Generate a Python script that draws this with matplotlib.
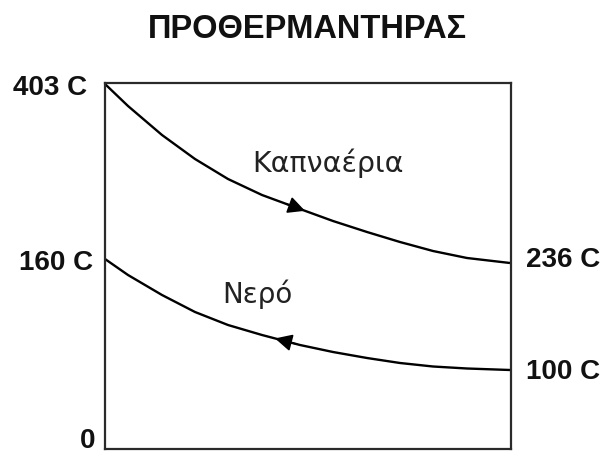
import numpy as np
import matplotlib.pyplot as plt

# ── Data (schematic levels) ────────────────────────────────────────────────
# x: position along the exchanger, y: drawing level (not to temperature scale)
pos_x   = [0, 23, 57, 90, 123, 157, 195, 228, 262, 295, 328, 362, 405]
gas_y   = [365, 343, 314, 290, 270, 254, 240, 228, 217, 207, 198, 191, 186]
water_y = [190, 174, 154, 137, 124, 114, 104, 97, 91, 86, 82.5, 80.5, 79]

left_labels  = ["403 C", "160 C", "0"]
left_levels  = [361, 186, 8]
right_labels = ["236 C", "100 C"]
right_levels = [189, 77]

title = "ΠΡΟΘΕΡΜΑΝΤΗΡΑΣ"
gas_name, water_name = "Καπναέρια", "Νερό"

# ── Plot ───────────────────────────────────────────────────────────────────
fig = plt.figure(figsize=(6.01, 4.57), dpi=100)
ax = fig.add_axes([105 / 601, 8 / 457, 406 / 601, 366 / 457])
ax.set_xlim(0, 406)
ax.set_ylim(0, 366)
ax.set_xticks([])
ax.set_yticks([])
for s in ax.spines.values():
    s.set_linewidth(1.6)
    s.set_color('#2a2a2a')

ax.plot(pos_x, gas_y, color='black', lw=1.7, solid_capstyle='butt')
ax.plot(pos_x, water_y, color='black', lw=1.7, solid_capstyle='butt')

# arrowheads: gas flows left→right, water right→left
def arrow(xs, ys, x_from, x_to):
    p0 = (x_from, np.interp(x_from, xs, ys))
    p1 = (x_to, np.interp(x_to, xs, ys))
    ax.annotate("", xy=p1, xytext=p0,
                arrowprops=dict(arrowstyle='-|>', color='black', lw=1.2,
                                mutation_scale=26, shrinkA=0, shrinkB=0))

arrow(pos_x, gas_y, 182, 200)
arrow(pos_x, water_y, 192, 170)

lab = dict(fontsize=20, fontweight='bold', family='Liberation Sans',
           va='center', color='#111111', clip_on=False)
for t, lv, dx in zip(left_labels, left_levels, [-18, -12, -10]):
    ax.text(dx, lv, t, ha='right', **lab)
for t, lv in zip(right_labels, right_levels):
    ax.text(421, lv, t, ha='left', **lab)

ax.text(147, 286, gas_name, fontsize=20.5, family='DejaVu Sans',
        color='#222222', ha='left', va='center')
ax.text(117, 155, water_name, fontsize=20, family='DejaVu Sans',
        color='#222222', ha='left', va='center')

fig.text(307 / 601, 1 - 30 / 457, title, fontsize=23.5, fontweight='bold',
         family='Liberation Sans', ha='center', va='center', color='#111111')

fig.savefig("out.png", dpi=100)
